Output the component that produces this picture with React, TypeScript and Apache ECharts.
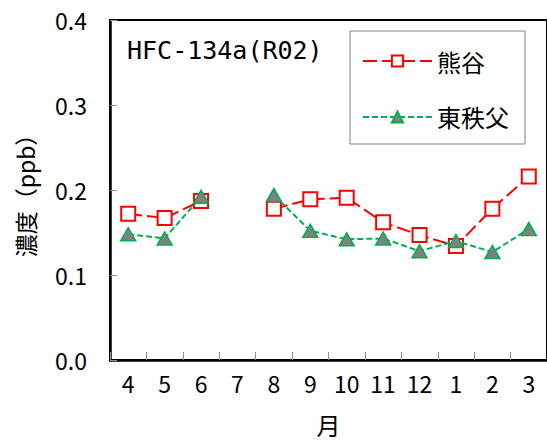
import React, { useEffect, useRef } from "react";
import * as echarts from "echarts";

const months = ["4", "5", "6", "7", "8", "9", "10", "11", "12", "1", "2", "3"];
const kumagaya: (number | null)[] = [0.172, 0.167, 0.187, null, 0.178, 0.189, 0.191, 0.162, 0.147, 0.134, 0.178, 0.216];
const higashichichibu: (number | null)[] = [0.148, 0.143, 0.192, null, 0.194, 0.152, 0.142, 0.143, 0.128, 0.140, 0.127, 0.154];
const yTicks = [0, 0.1, 0.2, 0.3, 0.4];
const titleText = "HFC-134a(R02)";
const seriesNames = ["熊谷", "東秩父"];

const FONT = "'Noto Sans CJK JP', 'Noto Sans', sans-serif";

export default function App() {
  const ref = useRef<HTMLDivElement>(null);
  useEffect(() => {
    document.body.style.margin = "0";
    if (!ref.current) return;
    const chart = echarts.init(ref.current, undefined, { renderer: "svg" });
    chart.setOption({
      animation: false,
      backgroundColor: "#ffffff",
      textStyle: { fontFamily: FONT },
      grid: {
        left: 110,
        top: 20,
        right: -11,
        bottom: 78,
        show: true,
        borderColor: "#000000",
        borderWidth: 2,
        backgroundColor: "transparent",
      },
      graphic: [
        {
          type: "text",
          left: 127,
          top: 38,
          style: {
            text: titleText,
            fontFamily: "'DejaVu Sans Mono', monospace",
            fontSize: 25,
            fill: "#000",
          },
        },
      ],
      legend: {
        orient: "vertical",
        left: 350,
        top: 31,
        padding: [18, 16, 15, 12],
        itemWidth: 69,
        itemHeight: 14,
        itemGap: 32,
        itemTextGap: 7,
        backgroundColor: "#ffffff",
        borderColor: "#808080",
        borderWidth: 1,
        borderRadius: 0,
        textStyle: { fontFamily: FONT, fontSize: 24, color: "#000" },
        data: seriesNames,
      },
      xAxis: {
        type: "category",
        data: months,
        boundaryGap: true,
        name: "月",
        nameLocation: "middle",
        nameGap: 52,
        nameTextStyle: { fontFamily: FONT, fontSize: 24, color: "#000" },
        axisLine: { show: true, lineStyle: { color: "#000", width: 2.5 } },
        axisTick: { show: true, inside: true, length: 8, lineStyle: { color: "#909090", width: 1 } },
        axisLabel: { fontFamily: FONT, fontSize: 23, color: "#000", margin: 11 },
        splitLine: { show: false },
      },
      yAxis: {
        type: "value",
        min: yTicks[0],
        max: yTicks[yTicks.length - 1],
        interval: 0.1,
        name: "濃度（ppb）",
        nameLocation: "middle",
        nameRotate: 90,
        nameGap: 74,
        nameTextStyle: { fontFamily: FONT, fontSize: 23, color: "#000" },
        axisLine: { show: true, lineStyle: { color: "#000", width: 2.5 } },
        axisTick: { show: true, inside: true, length: 7, lineStyle: { color: "#909090", width: 1 } },
        axisLabel: {
          fontFamily: FONT,
          fontSize: 23,
          color: "#000",
          margin: 23,
          formatter: (v: number) => v.toFixed(1),
        },
        splitLine: { show: false },
      },
      series: [
        {
          name: seriesNames[0],
          type: "line",
          data: kumagaya,
          connectNulls: false,
          symbol: "rect",
          symbolSize: 14,
          lineStyle: { color: "#ff0000", width: 2, type: [14, 5] },
          itemStyle: { color: "#ffffff", borderColor: "#ff0000", borderWidth: 2 },
          z: 3,
        },
        {
          name: seriesNames[1],
          type: "line",
          data: higashichichibu,
          connectNulls: false,
          symbol: "triangle",
          symbolSize: [15, 13],
          lineStyle: { color: "#00b050", width: 2, type: [6, 3] },
          itemStyle: { color: "#808080", borderColor: "#00b050", borderWidth: 1.5 },
          z: 4,
        },
      ],
    });
    return () => chart.dispose();
  }, []);
  return <div ref={ref} style={{ width: 547, height: 441 }} />;
}
